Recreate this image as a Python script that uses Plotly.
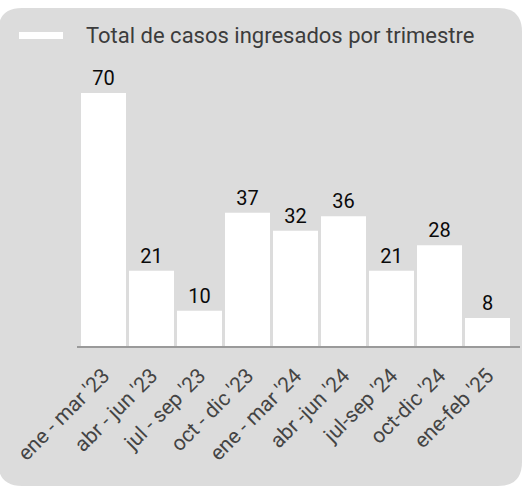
import plotly.graph_objects as go

categories = ["ene - mar '23", "abr - jun '23", "jul - sep '23", "oct - dic '23",
              "ene - mar '24", "abr -jun '24", "jul-sep '24", "oct-dic '24", "ene-feb '25"]
values = [70, 21, 10, 37, 32, 36, 21, 28, 8]
series_name = "Total de casos ingresados por trimestre"

W, H = 525, 487
FONT = "Roboto"

def px(x):
    return x / W

def py(y):
    return 1 - y / H

# plot area in pixels
X0, X1 = 79.5, 511.5
Y_AXIS = 347
YMAX = 80
PX_PER_UNIT = 3.63
Y_TOP = Y_AXIS - YMAX * PX_PER_UNIT

fig = go.Figure()
fig.add_trace(go.Bar(
    x=categories, y=values, name=series_name,
    marker=dict(color="white", line=dict(width=0)),
    text=[str(v) for v in values], textposition="outside",
    textfont=dict(family=FONT, size=20, color="#0a0a0a"),
    cliponaxis=False, showlegend=False,
))

# rounded card background
cx0, cy0, cx1, cy1, r = -2, 8, 522, 486, 24
path = (f"M {px(cx0)},{py(cy0+r)} Q {px(cx0)},{py(cy0)} {px(cx0+r)},{py(cy0)} "
        f"L {px(cx1-r)},{py(cy0)} Q {px(cx1)},{py(cy0)} {px(cx1)},{py(cy0+r)} "
        f"L {px(cx1)},{py(cy1-r)} Q {px(cx1)},{py(cy1)} {px(cx1-r)},{py(cy1)} "
        f"L {px(cx0+r)},{py(cy1)} Q {px(cx0)},{py(cy1)} {px(cx0)},{py(cy1-r)} Z")

shapes = [
    dict(type="path", path=path, xref="paper", yref="paper",
         fillcolor="#dcdcdc", line=dict(width=0), layer="below"),
    dict(type="line", xref="paper", yref="paper", x0=px(77), x1=px(520),
         y0=py(Y_AXIS), y1=py(Y_AXIS), line=dict(color="#9a9a9a", width=2), layer="above"),
    dict(type="rect", xref="paper", yref="paper", x0=px(19), x1=px(63),
         y0=py(39), y1=py(32), fillcolor="white", line=dict(width=0)),
]

fig.update_layout(
    width=W, height=H,
    margin=dict(l=0, r=0, t=0, b=0),
    paper_bgcolor="white", plot_bgcolor="rgba(0,0,0,0)",
    bargap=3/48,
    shapes=shapes,
    annotations=[dict(text=series_name, xref="paper", yref="paper",
                      x=px(84), y=py(35), xanchor="left", yanchor="middle",
                      showarrow=False,
                      font=dict(family=FONT, size=22, color="#3c3c3c"))],
    xaxis=dict(domain=[px(X0), px(X1)], tickangle=-45, showgrid=False, showline=False,
               ticks="outside", ticklen=7, tickcolor="rgba(0,0,0,0)",
               tickfont=dict(family=FONT, size=21, color="#444444"), automargin=False),
    yaxis=dict(domain=[py(Y_AXIS), py(Y_TOP)], range=[0, YMAX], visible=False,
               showgrid=False, automargin=False),
)

fig.write_html("out.html", config={"displayModeBar": False},
               post_script="document.body.style.margin='0';document.body.style.overflow='hidden';")
